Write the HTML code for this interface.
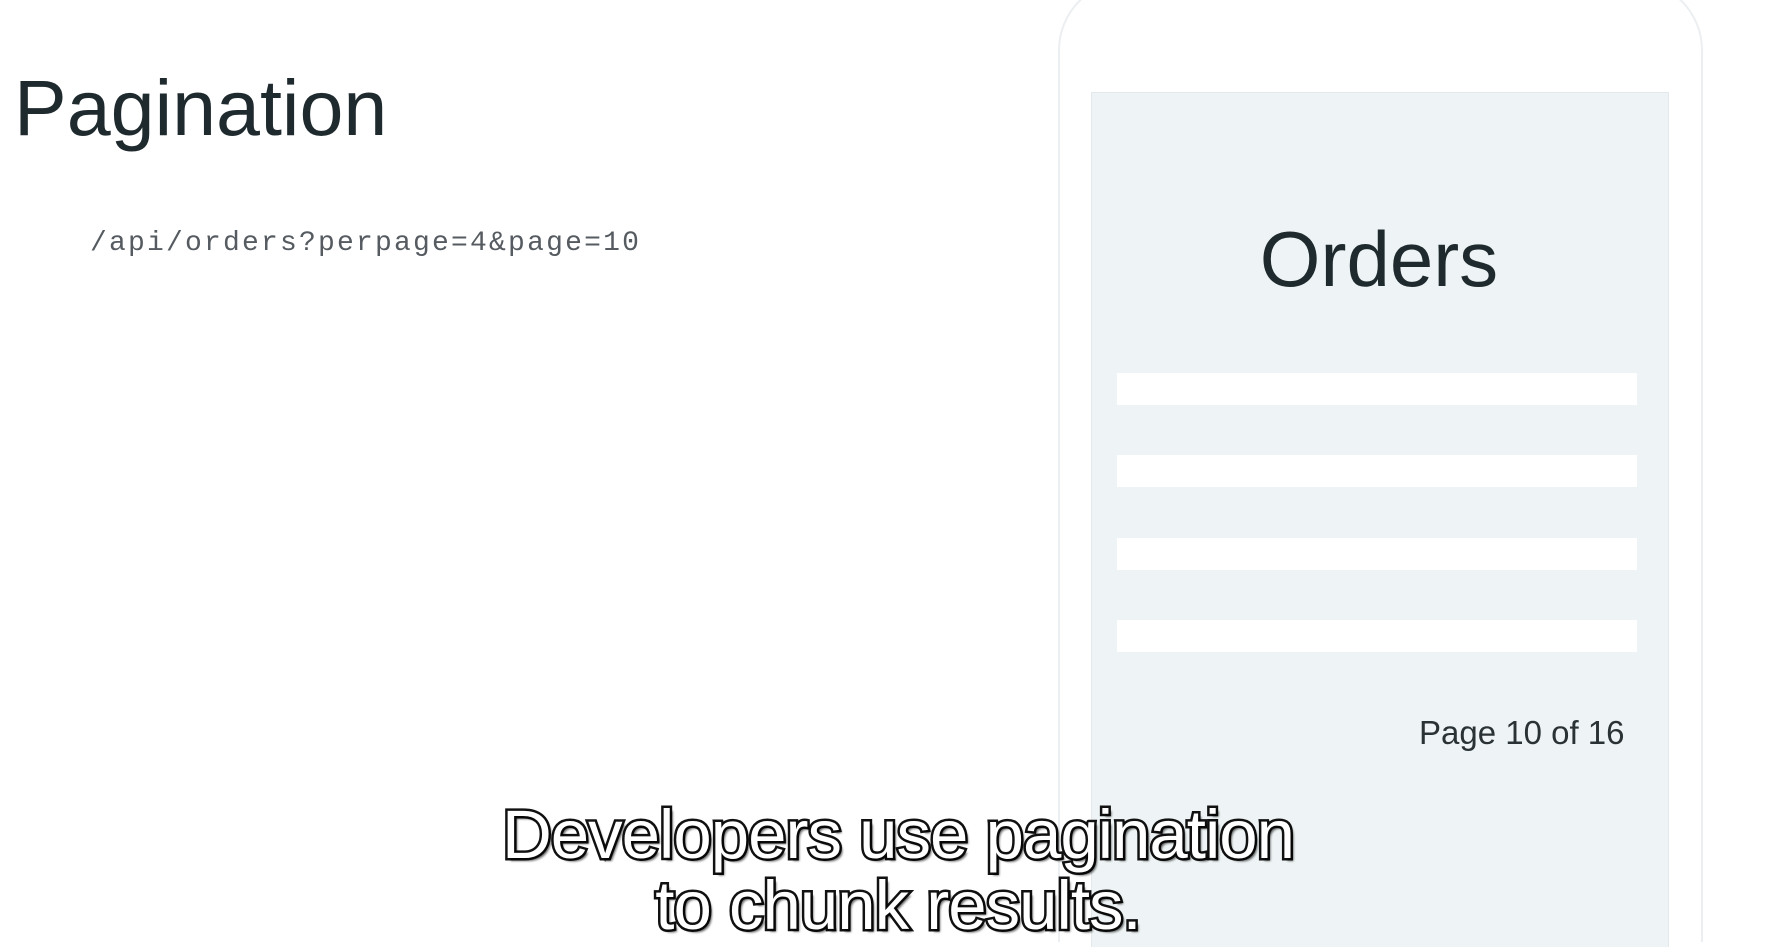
<!DOCTYPE html>
<html><head><style>
html,body{margin:0;padding:0;width:1767px;height:947px;overflow:hidden;}
body{background:#fff;position:relative;font-family:"Liberation Sans",sans-serif;}
.t{position:absolute;white-space:nowrap;}
#phone{position:absolute;left:1058px;top:-20px;width:641px;height:960px;border:2px solid #eceff1;border-bottom:none;border-radius:70px 70px 0 0;background:#fff;}
#screen{position:absolute;left:1091px;top:92px;width:576px;height:855px;background:#eef4f5;border:1px solid #e3e9eb;border-bottom:none;}
.bar{position:absolute;left:1117px;width:520px;height:32px;background:#fff;}
.sub{position:absolute;left:0;width:1600px;text-align:center;font-size:69px;color:#fff;-webkit-text-stroke:5px #111;paint-order:stroke fill;text-shadow:3px 3px 2px rgba(0,0,0,0.6);white-space:nowrap;letter-spacing:-1px;}
</style></head><body>
<div class="t" style="left:14px;top:62px;font-size:79px;color:#1f2a2e;">Pagination</div>
<div class="t" style="left:90px;top:228px;font-family:'Liberation Mono',monospace;font-size:28px;letter-spacing:2.2px;color:#555b60;">/api/orders?perpage=4&amp;page=10</div>
<div id="phone"></div>
<div id="screen"></div>
<div class="t" style="left:1254px;top:214px;width:250px;text-align:center;font-size:78px;color:#1f2a2e;">Orders</div>
<div class="bar" style="top:373px"></div>
<div class="bar" style="top:455px"></div>
<div class="bar" style="top:538px"></div>
<div class="bar" style="top:620px"></div>
<div class="t" style="left:1419px;top:714px;font-size:33px;color:#2a3236;">Page 10 of 16</div>
<div class="sub" style="top:795px;left:98px;">Developers use pagination</div>
<div class="sub" style="top:866px;left:98px;">to chunk results.</div>
</body></html>
